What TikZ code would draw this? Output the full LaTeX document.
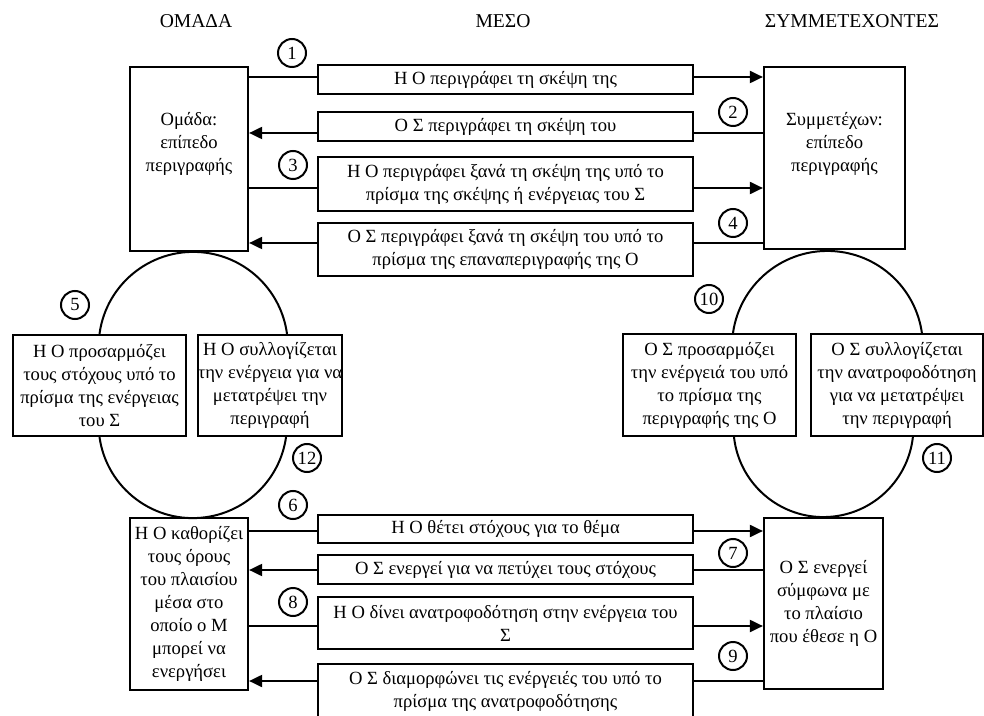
\documentclass[tikz,border=0pt]{standalone}
\usepackage{fontspec}
\setmainfont{Liberation Serif}
\usetikzlibrary{arrows.meta}

\newcommand\txt{\fontsize{9.3pt}{11.5pt}\selectfont}
\newcommand\hdr{\fontsize{9.8pt}{12pt}\selectfont}

\begin{document}
\begin{tikzpicture}[
			x=0.5pt, y=-0.5pt,
			box/.style={draw,line width=1.1pt,rectangle,inner sep=0pt,align=center,font=\txt},
			mid/.style={box,minimum width=187.5pt},
			lbl/.style={draw=none,inner sep=0pt,align=center,font=\txt},
			num/.style={draw,circle,line width=1pt,minimum size=14pt,inner sep=0pt,font=\txt},
			link/.style={line width=1pt},
			arr/.style={line width=1pt,-{Triangle[length=6.5pt,width=6pt]}},
			ring/.style={line width=1pt}
		]
		\useasboundingbox (0,0) rectangle (984,716);

		\node [lbl,font=\hdr] (hO) at (196,21) {ΟΜΑΔΑ};
		\node [lbl,font=\hdr] (hM) at (503,21) {ΜΕΣΟ};
		\node [lbl,font=\hdr] (hS) at (852,21) {ΣΥΜΜΕΤΕΧΟΝΤΕΣ};

		% level of description
		\node [box,minimum width=59pt,minimum height=92pt] (omada) at (189,159) {};
		\node [lbl] (omadaT) at (189,144) {Ομάδα:\\ επίπεδο\\ περιγραφής};
		\node [box,minimum width=70.5pt,minimum height=91pt] (symm) at (834.5,158) {};
		\node [lbl] (symmT) at (834.5,144) {Συμμετέχων:\\ επίπεδο\\ περιγραφής};

		\node [mid,minimum height=14.5pt] (m1) at (505.5,79.5) {Η Ο περιγράφει τη σκέψη της};
		\node [mid,minimum height=14.5pt] (m2) at (505.5,126.5) {Ο Σ περιγράφει τη σκέψη του};
		\node [mid,minimum height=27pt] (m3) at (505.5,184) {Η Ο περιγράφει ξανά τη σκέψη της υπό το\\ πρίσμα της σκέψης ή ενέργειας του Σ};
		\node [mid,minimum height=26.5pt] (m4) at (505.5,249.5) {Ο Σ περιγράφει ξανά τη σκέψη του υπό το\\ πρίσμα της επαναπεριγραφής της Ο};

		\coordinate (y1) at (0,77);
		\coordinate (y2) at (0,133);
		\coordinate (y3) at (0,188);
		\coordinate (y4) at (0,243);

		\draw[link] (omada.east |- y1)--(m1.west |- y1);
		\draw[arr] (m1.east |- y1)--(symm.west |- y1);
		\draw[link] (symm.west |- y2)--(m2.east |- y2);
		\draw[arr] (m2.west |- y2)--(omada.east |- y2);
		\draw[link] (omada.east |- y3)--(m3.west |- y3);
		\draw[arr] (m3.east |- y3)--(symm.west |- y3);
		\draw[link] (symm.west |- y4)--(m4.east |- y4);
		\draw[arr] (m4.west |- y4)--(omada.east |- y4);

		% reflection loops
		\node [box,minimum width=86.5pt,minimum height=50.5pt] (adaptO) at (99.5,385.5) {Η Ο προσαρμόζει\\ τους στόχους υπό το\\ πρίσμα της ενέργειας\\ του Σ};
		\node [box,minimum width=70pt,minimum height=50.5pt] (reflO) at (270,385.5) {Η Ο συλλογίζεται\\ την ενέργεια για να\\ μετατρέψει την\\ περιγραφή};
		\node [box,minimum width=86.5pt,minimum height=51pt] (adaptS) at (709.5,385) {Ο Σ προσαρμόζει\\ την ενέργειά του υπό\\ το πρίσμα της\\ περιγραφής της Ο};
		\node [box,minimum width=86pt,minimum height=51pt] (reflS) at (897,385) {Ο Σ συλλογίζεται\\ την ανατροφοδότηση\\ για να μετατρέψει\\ την περιγραφή};

		\coordinate (lt) at (adaptO.north);
		\coordinate (lb) at (adaptO.south);
		\coordinate (rt) at (adaptS.north -| 733,0);
		\coordinate (rb) at (adaptS.south -| 734,0);

		\draw[ring] (lt) arc[start angle=172.35,end angle=7.65,radius=47.3pt];
		\draw[ring] (lb) arc[start angle=188.05,end angle=351.95,radius=47.1pt];
		\draw[ring] (rt) arc[start angle=171.9,end angle=8.1,radius=47.7pt];
		\draw[ring] (rb) arc[start angle=186.4,end angle=353.6,radius=45pt];

		% level of action
		\node [box,minimum width=59pt,minimum height=86pt] (frame) at (189,604) {Η Ο καθορίζει\\ τους όρους\\ του πλαισίου\\ μέσα στο\\ οποίο ο Μ\\ μπορεί να\\ ενεργήσει};
		\node [box,minimum width=59.5pt,minimum height=85.5pt] (acts) at (823.5,603.5) {Ο Σ ενεργεί\\ σύμφωνα με\\ το πλαίσιο\\ που έθεσε η Ο};

		\node [mid,minimum height=14pt] (m6) at (505.5,529) {Η Ο θέτει στόχους για το θέμα};
		\node [mid,minimum height=14.5pt] (m7) at (505.5,569.5) {Ο Σ ενεργεί για να πετύχει τους στόχους};
		\node [mid,minimum height=26pt] (m8) at (505.5,623) {Η Ο δίνει ανατροφοδότηση στην ενέργεια του\\ Σ};
		\node [mid,minimum height=27pt] (m9) at (505.5,691) {Ο Σ διαμορφώνει τις ενέργειές του υπό το\\ πρίσμα της ανατροφοδότησης};

		\coordinate (y6) at (0,531);
		\coordinate (y7) at (0,570);
		\coordinate (y8) at (0,626);
		\coordinate (y9) at (0,681);

		\draw[link] (frame.east |- y6)--(m6.west |- y6);
		\draw[arr] (m6.east |- y6)--(acts.west |- y6);
		\draw[link] (acts.west |- y7)--(m7.east |- y7);
		\draw[arr] (m7.west |- y7)--(frame.east |- y7);
		\draw[link] (frame.east |- y8)--(m8.west |- y8);
		\draw[arr] (m8.east |- y8)--(acts.west |- y8);
		\draw[link] (acts.west |- y9)--(m9.east |- y9);
		\draw[arr] (m9.west |- y9)--(frame.east |- y9);

		% steps
		\node [num] (n1) at (292,53) {1};
		\node [num] (n2) at (733,112) {2};
		\node [num] (n3) at (293,165) {3};
		\node [num] (n4) at (733,223) {4};
		\node [num] (n5) at (75,305) {5};
		\node [num] (n6) at (293,505) {6};
		\node [num] (n7) at (733,553) {7};
		\node [num] (n8) at (293,602) {8};
		\node [num] (n9) at (733,656) {9};
		\node [num] (n10) at (709,299) {10};
		\node [num] (n11) at (937,458) {11};
		\node [num] (n12) at (307,458) {12};
	\end{tikzpicture}
\end{document}
